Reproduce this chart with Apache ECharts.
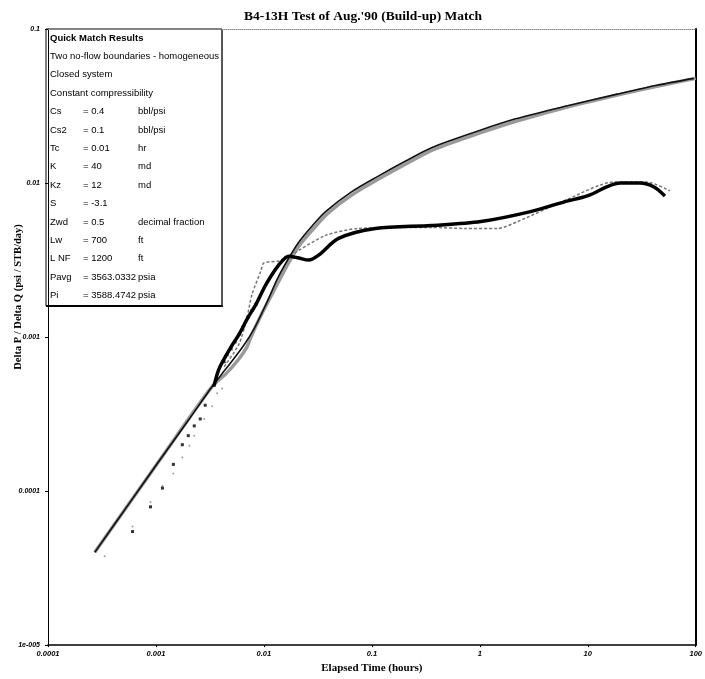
<!DOCTYPE html>
<html>
<head>
<meta charset="utf-8">
<script src="https://cdn.jsdelivr.net/npm/echarts@6/dist/echarts.min.js"></script>
<style>
html,body{margin:0;padding:0;background:#fff;}
#chart{width:705px;height:679px;}
</style>
</head>
<body>
<div id="chart"></div>
<script>
// ---- tick labels ----
const xTickLabels = ['0.0001','0.001','0.01','0.1','1','10','100'];
const yTickLabels = ['1e-005','0.0001','0.001','0.01','0.1'];

// ---- pressure change data (black) ----
const pressTime = [2.71e-4,5.70e-4,1.077e-3,2.036e-3,3.317e-3,4.466e-3,6.544e-3,8.262e-3,0.01066,0.01346,0.0170,0.02102,0.0277,0.03727,0.06473,0.1148,0.2036,0.3611,0.979,2.147,6.336,18.71,43.72,95.9];
const pressVal  = [4.00e-5,8.38e-5,1.58e-4,2.94e-4,4.78e-4,6.24e-4,8.89e-4,1.16e-3,1.68e-3,2.42e-3,3.26e-3,4.13e-3,5.22e-3,6.52e-3,8.76e-3,0.01109,0.01384,0.01702,0.02186,0.0261,0.03162,0.03776,0.04311,0.0478];

// ---- pressure change model (grey) ----
const pModelTime = [2.71e-4,1.077e-3,3.317e-3,4.466e-3,5.884e-3,6.972e-3,7.59e-3,9.384e-3,0.01236,0.01629,0.02102,0.02889,0.03973,0.06753,0.1198,0.2125,0.3767,1.021,2.24,6.473,18.71,43.72,100];
const pModelVal  = [4.00e-5,1.58e-4,4.78e-4,5.79e-4,7.23e-4,8.63e-4,1.0e-3,1.38e-3,2.0e-3,2.89e-3,3.89e-3,5.07e-3,6.42e-3,8.5e-3,0.01077,0.01343,0.01652,0.02123,0.02535,0.03116,0.0372,0.04248,0.0478];

// ---- derivative data (thick black) ----
const derivTime = [3.461e-3,3.849e-3,4.965e-3,5.884e-3,7.121e-3,8.44e-3,0.01043,0.01375,0.0170,0.02102,0.02598,0.03213,0.04911,0.1077,0.3535,1.021,2.951,6.07,9.894,19.93,30.47,41.03,51.8];
const derivVal  = [4.85e-4,6.24e-4,8.63e-4,1.04e-3,1.34e-3,1.63e-3,2.19e-3,2.94e-3,3.35e-3,3.26e-3,3.16e-3,3.40e-3,4.37e-3,5.07e-3,5.30e-3,5.62e-3,6.52e-3,7.55e-3,8.25e-3,0.0100,0.0100,9.43e-3,8.25e-3];

// ---- derivative model (grey dotted) ----
const dModelTime = [4.28e-3,5.884e-3,6.972e-3,7.752e-3,9.384e-3,0.0100,0.01375,0.0170,0.03727,0.07508,0.3535,0.7275,1.466,2.24,6.07,17.55,35.35,57.6];
const dModelVal  = [6.42e-4,9.02e-4,1.34e-3,1.89e-3,2.69e-3,3.03e-3,3.12e-3,3.35e-3,4.57e-3,5.07e-3,5.15e-3,5.07e-3,5.07e-3,5.62e-3,7.67e-3,0.01015,0.01015,8.89e-3];

// ---- early derivative points (black squares) ----
const sqTime = [6.07e-4,8.9e-4,1.148e-3,1.45e-3,1.755e-3,1.993e-3,2.263e-3,2.572e-3,2.859e-3,3.461e-3,4.28e-3,4.56e-3,4.965e-3,5.403e-3,5.884e-3,6.406e-3,7.121e-3,7.752e-3,8.44e-3];
const sqVal  = [5.46e-5,7.9e-5,1.045e-4,1.49e-4,2.0e-4,2.29e-4,2.65e-4,2.94e-4,3.61e-4,4.85e-4,6.91e-4,7.67e-4,8.38e-4,9.29e-4,1.04e-3,1.16e-3,1.34e-3,1.49e-3,1.63e-3];

// ---- early model points (grey dots) ----
const dotTime = [3.35e-4,6.07e-4,8.9e-4,1.148e-3,1.45e-3,1.755e-3,2.036e-3,2.263e-3,2.799e-3,3.317e-3,3.688e-3,4.102e-3];
const dotVal  = [3.77e-5,5.88e-5,8.5e-5,1.08e-4,1.30e-4,1.65e-4,1.97e-4,2.29e-4,2.94e-4,3.56e-4,4.31e-4,4.64e-4];

// ---- quick match results box ----
const boxTitle = 'Quick Match Results';
const boxHeader = ['Two no-flow boundaries - homogeneous', 'Closed system', 'Constant compressibility'];
const paramNames  = ['Cs','Cs2','Tc','K','Kz','S','Zwd','Lw','L NF','Pavg','Pi'];
const paramValues = ['= 0.4','= 0.1','= 0.01','= 40','= 12','= -3.1','= 0.5','= 700','= 1200','= 3563.0332','= 3588.4742'];
const paramUnits  = ['bbl/psi','bbl/psi','hr','md','md','','decimal fraction','ft','ft','psia','psia'];

function zip(a,b){return a.map((v,i)=>[v,b[i]]);}

const chart = echarts.init(document.getElementById('chart'));

const tf = {fontFamily:'Liberation Sans', fontSize:9.5, fill:'#000'};
const boxChildren = [
  {type:'rect', shape:{x:46,y:29,width:176,height:277}, style:{fill:'#fff',stroke:'#000',lineWidth:1}},
  {type:'line', shape:{x1:46,y1:306,x2:223,y2:306}, style:{stroke:'#000',lineWidth:2}},
  {type:'line', shape:{x1:222,y1:29,x2:222,y2:307}, style:{stroke:'#333',lineWidth:1}},
  {type:'text', x:50, y:38, style:Object.assign({}, tf, {text:boxTitle, fontWeight:'bold', verticalAlign:'middle'})}
];
const lh = 18.4;
boxHeader.forEach((t,i)=>{
  boxChildren.push({type:'text', x:50, y:38+lh*(i+1), style:Object.assign({}, tf, {text:t, verticalAlign:'middle'})});
});
paramNames.forEach((n,i)=>{
  const y = 38+lh*(i+4);
  boxChildren.push({type:'text', x:50, y:y, style:Object.assign({}, tf, {text:n, verticalAlign:'middle'})});
  boxChildren.push({type:'text', x:83, y:y, style:Object.assign({}, tf, {text:paramValues[i], verticalAlign:'middle'})});
  boxChildren.push({type:'text', x:138, y:y, style:Object.assign({}, tf, {text:paramUnits[i], verticalAlign:'middle'})});
});

const option = {
  backgroundColor:'#fff',
  animation:false,
  title:{
    text:"B4-13H Test of Aug.'90 (Build-up) Match",
    left:239, top:5,
    textStyle:{fontFamily:'Liberation Serif', fontWeight:'bold', fontSize:13.5, color:'#000'}
  },
  grid:{left:48, right:5, top:29, bottom:27, show:false},
  xAxis:[{
    type:'log', logBase:10, min:0.0001, max:100, interval:1,
    name:'Elapsed Time (hours)', nameLocation:'middle', nameGap:15,
    nameTextStyle:{fontFamily:'Liberation Serif', fontWeight:'bold', fontSize:11, color:'#000'},
    axisLine:{lineStyle:{color:'#000', width:1.5}},
    axisTick:{show:true, length:2, lineStyle:{color:'#000'}},
    minorTick:{show:false},
    splitLine:{show:false},
    axisLabel:{margin:5, fontFamily:'Liberation Sans', fontStyle:'italic', fontWeight:'bold', fontSize:7.5, color:'#000',
      formatter:function(v){return xTickLabels[Math.round(Math.log10(v))+4];}}
  },{
    type:'log', logBase:10, min:0.0001, max:100, position:'top',
    axisLine:{show:true, lineStyle:{color:'#888', type:'dotted', width:1}},
    axisTick:{show:false}, axisLabel:{show:false}, splitLine:{show:false}
  }],
  yAxis:[{
    type:'log', logBase:10, min:0.00001, max:0.1, interval:1,
    axisLine:{show:true, lineStyle:{color:'#000', width:1}},
    axisTick:{show:true, length:3, lineStyle:{color:'#000'}},
    splitLine:{show:false},
    axisLabel:{margin:8, fontFamily:'Liberation Sans', fontStyle:'italic', fontWeight:'bold', fontSize:7, color:'#000',
      formatter:function(v){return yTickLabels[Math.round(Math.log10(v))+5];}}
  },{
    type:'log', logBase:10, min:0.00001, max:0.1, position:'right',
    axisLine:{show:true, lineStyle:{color:'#000', width:2}},
    axisTick:{show:false}, axisLabel:{show:false}, splitLine:{show:false}
  }],
  graphic:[
    {type:'text', x:18, y:297, rotation:Math.PI/2,
      style:{text:'Delta P / Delta Q (psi / STB/day)', fontFamily:'Liberation Serif', fontWeight:'bold', fontSize:10.5, fill:'#000', align:'center', verticalAlign:'middle'}},
    {type:'group', z:100, children:boxChildren}
  ],
  series:[
    {name:'Pressure model', type:'line', data:zip(pModelTime,pModelVal), showSymbol:false, smooth:0.3,
      lineStyle:{color:'#9a9a9a', width:3.5}, z:2},
    {name:'Pressure', type:'line', data:zip(pressTime,pressVal), showSymbol:false, smooth:0.3,
      lineStyle:{color:'#111', width:1.6}, z:3},
    {name:'Derivative model', type:'line', data:zip(dModelTime,dModelVal), showSymbol:false, smooth:0.25,
      lineStyle:{color:'#777', width:1.5, type:[3,2]}, z:2},
    {name:'Derivative', type:'line', data:zip(derivTime,derivVal), showSymbol:false, smooth:0.3,
      lineStyle:{color:'#000', width:3.5}, z:4},
    {name:'Early derivative', type:'scatter', data:zip(sqTime,sqVal), symbol:'rect', symbolSize:3,
      itemStyle:{color:'#000'}, z:4},
    {name:'Early model', type:'scatter', data:zip(dotTime,dotVal), symbol:'circle', symbolSize:2,
      itemStyle:{color:'#888'}, z:3}
  ]
};
chart.setOption(option);
</script>
</body>
</html>
